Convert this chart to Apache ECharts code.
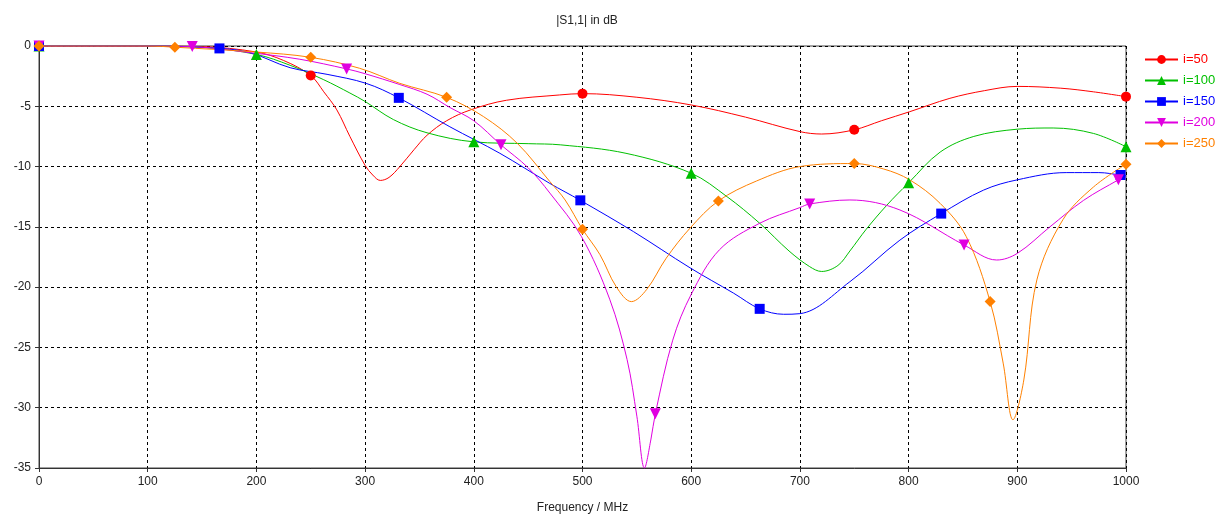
<!DOCTYPE html>
<html>
<head>
<meta charset="utf-8">
<script src="https://cdn.jsdelivr.net/npm/echarts@6/dist/echarts.min.js"></script>
<style>
html,body{margin:0;padding:0;background:#fff;}
#chart{width:1226px;height:520px;}
</style>
</head>
<body>
<div id="chart"></div>
<script>
// ---- data (frequency in MHz, |S1,1| in dB) ----
const seriesNames = ['i=50', 'i=100', 'i=150', 'i=200', 'i=250'];

const redFreq = [0,50,100,150,200,225,250,262,274,286,300,307,314,322,332,345,357,375,397,430,479,500,550,600,650,700,720,750,775,801,838,870,900,940,970,1000];
const redDb   = [0,0,0,-0.05,-0.5,-1.2,-2.45,-3.8,-5.3,-7.5,-9.9,-10.7,-11.15,-10.9,-10.0,-8.6,-7.4,-6.2,-5.3,-4.5,-4.06,-3.95,-4.25,-4.89,-5.9,-7.1,-7.3,-6.95,-6.2,-5.45,-4.34,-3.7,-3.35,-3.5,-3.8,-4.2];
const redMarks = [0,250,500,750,1000];

const greenFreq = [0,50,100,150,200,231,262,286,300,326,357,400,450,480,540,600,633,663,690,709,720,735,746,761,780,800,829,860,900,933,970,1000];
const greenDb   = [0,0,0,-0.1,-0.7,-1.6,-2.8,-3.9,-4.6,-6.1,-7.2,-7.95,-8.1,-8.2,-8.9,-10.55,-12.5,-14.7,-17.0,-18.3,-18.7,-18.2,-17.0,-15.2,-13.2,-11.35,-8.8,-7.5,-6.9,-6.8,-7.25,-8.35];
const greenMarks = [0,200,400,600,800,1000];

const blueFreq = [0,50,100,166,194,231,265,301,331,378,424,470,498,547,599,639,663,685,700,746,792,830,869,900,945,975,995,1000];
const blueDb   = [0,0,0,-0.2,-0.55,-1.8,-2.35,-3.1,-4.3,-6.7,-8.9,-11.4,-12.8,-15.4,-18.4,-20.5,-21.8,-22.25,-22.2,-19.55,-16.1,-13.9,-11.95,-11.1,-10.5,-10.5,-10.7,-10.75];
const blueMarks = [0,166,331,498,663,830,995];

const magentaFreq = [0,50,100,141,194,240,283,300,332,357,378,400,425,450,470,499,525,541,550,557,563,567,583,600,626,663,700,709,746,792,851,881,900,930,961,993,1000];
const magentaDb   = [0,0,0,-0.05,-0.55,-1.1,-1.9,-2.3,-3.2,-4.0,-5.1,-6.2,-8.2,-10.1,-12.2,-15.8,-21.0,-26.0,-30.7,-35.0,-32.6,-30.5,-24.4,-20.6,-16.9,-14.7,-13.4,-13.1,-12.77,-13.6,-16.5,-17.75,-17.2,-15.0,-12.8,-11.1,-10.8];
const magentaMarks = [0,141,283,425,567,709,851,993];

const orangeFreq = [0,50,100,125,200,250,295,332,375,409,440,470,484,500,516,531,545,559,577,599,625,660,700,750,777,801,829,853,875,887,896,906,918,942,970,1000];
const orangeDb   = [0,0,0,-0.1,-0.5,-0.94,-1.85,-3.1,-4.26,-5.86,-8.07,-11.25,-12.77,-15.2,-17.3,-19.96,-21.2,-20.2,-17.6,-15.1,-12.85,-11.2,-10.0,-9.75,-10.2,-11.1,-13.05,-15.8,-21.2,-26.3,-31.0,-27.7,-19.4,-14.4,-11.7,-9.8];
const orangeMarks = [0,125,250,375,500,625,750,875,1000];

const xTicks = [0,100,200,300,400,500,600,700,800,900,1000];
const yTicks = [0,-5,-10,-15,-20,-25,-30,-35];

// ---- styles ----
const colors = ['#ff0000', '#00c000', '#0000ff', '#e000e0', '#ff8000'];
const symbols = ['circle', 'triangle', 'rect', 'path://M0,0 L10,0 L5,10 Z', 'diamond'];
const symbolSizes = [10, 11, 10, 11, 11];
const FONT = 'Liberation Sans';

function build(freq, db, marks) {
  return freq.map((f, i) => marks.includes(f) ? [f, db[i]] : { value: [f, db[i]], symbol: 'none' });
}

const dataSets = [
  build(redFreq, redDb, redMarks),
  build(greenFreq, greenDb, greenMarks),
  build(blueFreq, blueDb, blueMarks),
  build(magentaFreq, magentaDb, magentaMarks),
  build(orangeFreq, orangeDb, orangeMarks)
];

const chart = echarts.init(document.getElementById('chart'), null, { renderer: 'canvas' });
chart.setOption({
  animation: false,
  backgroundColor: '#ffffff',
  title: {
    text: '|S1,1| in dB',
    left: 582, top: 10, textAlign: 'center',
    textStyle: { fontFamily: FONT, fontSize: 12, fontWeight: 'normal', color: '#222' }
  },
  grid: { left: 39, right: 100, top: 46, bottom: 52, show: true, borderColor: '#444', borderWidth: 1, backgroundColor: 'transparent' },
  legend: {
    orient: 'vertical', left: 1139, top: 48, itemWidth: 33, itemHeight: 11, itemGap: 8,
    data: seriesNames.map((n, i) => ({ name: n, textStyle: { color: colors[i] } })),
    textStyle: { fontFamily: FONT, fontSize: 13 }
  },
  xAxis: {
    type: 'value', min: 0, max: 1000, interval: 100,
    name: 'Frequency / MHz', nameLocation: 'middle', nameGap: 34,
    nameTextStyle: { fontFamily: FONT, fontSize: 12, color: '#222' },
    axisLine: { show: true, onZero: false, lineStyle: { color: '#333', width: 1 } },
    axisTick: { show: true, inside: false, length: 4, lineStyle: { color: '#333' } },
    axisLabel: { fontFamily: FONT, fontSize: 12, color: '#222', margin: 8,
      formatter: v => xTicks.includes(v) ? String(v) : '' },
    splitLine: { show: true, lineStyle: { color: '#000', type: [3, 3], width: 1 } }
  },
  yAxis: {
    type: 'value', min: -35, max: 0, interval: 5,
    axisLine: { show: true, onZero: false, lineStyle: { color: '#333', width: 1 } },
    axisTick: { show: true, inside: false, length: 4, lineStyle: { color: '#333' } },
    axisLabel: { fontFamily: FONT, fontSize: 12, color: '#222', margin: 8,
      formatter: v => yTicks.includes(v) ? String(v) : '' },
    splitLine: { show: true, lineStyle: { color: '#000', type: [3, 3], width: 1 } }
  },
  series: seriesNames.map((n, i) => ({
    name: n, type: 'line', data: dataSets[i],
    smooth: 0.35, showSymbol: true,
    symbol: symbols[i], symbolSize: symbolSizes[i],
    clip: true,
    lineStyle: { color: colors[i], width: 1 },
    itemStyle: { color: colors[i], borderWidth: 0 },
    emphasis: { disabled: true }
  }))
});
</script>
</body>
</html>
